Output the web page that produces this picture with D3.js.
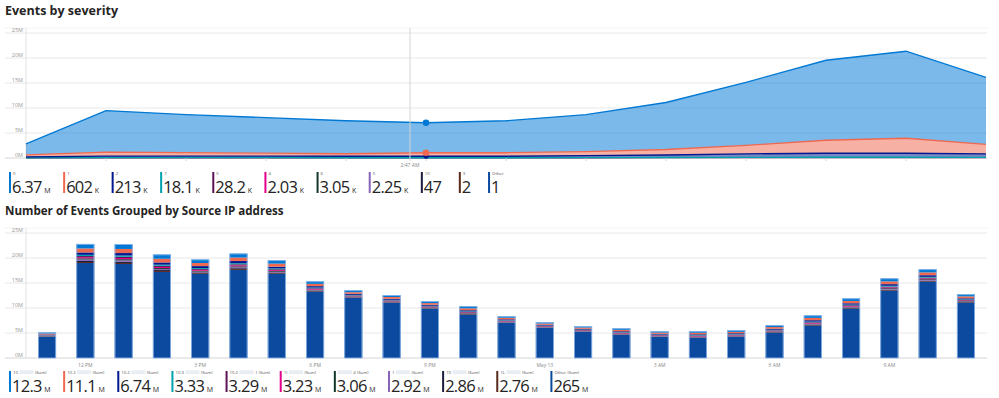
<!DOCTYPE html>
<html>
<head>
<meta charset="utf-8">
<script src="https://cdn.jsdelivr.net/npm/d3@7/dist/d3.min.js"></script>
<style>
body { margin: 0; background: #fff; }
svg { font-family: "Segoe UI", "Open Sans", sans-serif; }
</style>
</head>
<body>
<svg id="chart" width="999" height="398"></svg>
<script>
// --- Events by severity (stacked area, values in millions) ---
const sevNames = ['0', '1', '2', '7', '5', '4', '6', '5', '10', '3', 'Other']
const sevColors = ['#0078d4', '#ef6950', '#00188f', '#00a2ad', '#5c1456', '#e3008c', '#12382a', '#8764b8', '#1b1d3f', '#5a2a1c', '#0b4a9e']
const sevTotals = ['6.37', '602', '213', '18.1', '28.2', '2.03', '3.05', '2.25', '47', '2', '1']
const sevUnits = ['M', 'K', 'K', 'K', 'K', 'K', 'K', 'K', '', '', '']
const sev0 = [2.2, 8.3, 7.6, 7.1, 6.6, 6.0, 6.4, 7.4, 9.4, 12.6, 16.0, 17.4, 13.4]
const sev1 = [0.4, 0.8, 0.7, 0.6, 0.5, 0.7, 0.7, 0.8, 1.1, 1.7, 2.6, 3.0, 1.9]
const sev2 = [0.2, 0.3, 0.3, 0.3, 0.3, 0.3, 0.3, 0.4, 0.5, 0.7, 0.8, 0.8, 0.7]
const sev7 = [0.01, 0.03, 0.03, 0.03, 0.02, 0.02, 0.02, 0.03, 0.04, 0.05, 0.06, 0.06, 0.05]
const sev5 = [0.02, 0.05, 0.04, 0.04, 0.03, 0.03, 0.03, 0.04, 0.06, 0.08, 0.09, 0.09, 0.07]
const hoverAt = 4.8
const hoverIndex = 5
const hoverLabel = '2:47 AM'

// --- Number of events grouped by source IP (stacked bars, millions) ---
const hours = ['11 AM', '12 PM', '1 PM', '2 PM', '3 PM', '4 PM', '5 PM', '6 PM', '7 PM', '8 PM', '9 PM', '10 PM',
	'May 13', '1 AM', '2 AM', '3 AM', '4 AM', '5 AM', '6 AM', '7 AM', '8 AM', '9 AM', '10 AM', '11 AM ', '12 PM ']
const hourTicks = ['12 PM', '3 PM', '6 PM', '9 PM', '1 AM', '4 AM', '7 AM', '10 AM']
const hourTickText = ['12 PM', '3 PM', '6 PM', '9 PM', 'May 13', '3 AM', '6 AM', '9 AM']
const ipPrefix = ['10', '10.2', '10.2', '10.3', '10.2', '1(', '', '1', '10', '1L', 'Other']
const ipSuffix = ['(Sum)', '(Sum)', '(Sum)', '(Sum)', '1 (Sum)', '(Sum)', '4 (Sum)', '(Sum)', '(Sum)', '(Sum)', '(Sum)']
const ipTotals = ['12.3', '11.1', '6.74', '3.33', '3.29', '3.23', '3.06', '2.92', '2.86', '2.76', '265']
const ip0 = [0.22, 0.9, 0.95, 0.85, 0.7, 0.8, 0.68, 0.5, 0.38, 0.36, 0.38, 0.42, 0.3, 0.28, 0.27, 0.32, 0.28, 0.31, 0.33, 0.38, 0.5, 0.52, 0.6, 0.62, 0.42]
const ip1 = [0.2, 0.8, 0.82, 0.74, 0.62, 0.7, 0.6, 0.46, 0.33, 0.35, 0.33, 0.38, 0.3, 0.25, 0.25, 0.29, 0.24, 0.3, 0.28, 0.34, 0.46, 0.45, 0.55, 0.56, 0.38]
const ip2 = [0.12, 0.48, 0.5, 0.45, 0.38, 0.44, 0.35, 0.28, 0.2, 0.21, 0.2, 0.23, 0.18, 0.15, 0.16, 0.18, 0.15, 0.17, 0.18, 0.2, 0.28, 0.27, 0.33, 0.33, 0.22]
const ip3 = [0.06, 0.24, 0.25, 0.22, 0.18, 0.21, 0.17, 0.14, 0.1, 0.1, 0.1, 0.11, 0.09, 0.08, 0.07, 0.09, 0.07, 0.09, 0.09, 0.1, 0.14, 0.13, 0.16, 0.16, 0.11]
const ip4 = [0.06, 0.23, 0.24, 0.23, 0.19, 0.21, 0.17, 0.13, 0.1, 0.1, 0.11, 0.11, 0.09, 0.07, 0.08, 0.08, 0.08, 0.08, 0.09, 0.1, 0.13, 0.14, 0.16, 0.16, 0.11]
const ip5 = [0.06, 0.23, 0.24, 0.22, 0.18, 0.2, 0.17, 0.14, 0.09, 0.1, 0.1, 0.11, 0.08, 0.07, 0.07, 0.09, 0.07, 0.09, 0.08, 0.1, 0.13, 0.13, 0.16, 0.15, 0.11]
const ip6 = [0.05, 0.22, 0.23, 0.21, 0.17, 0.19, 0.16, 0.13, 0.09, 0.09, 0.09, 0.1, 0.08, 0.07, 0.07, 0.08, 0.07, 0.08, 0.08, 0.09, 0.13, 0.13, 0.15, 0.15, 0.1]
const ip7 = [0.05, 0.3, 0.3, 0.19, 0.16, 0.18, 0.15, 0.12, 0.09, 0.09, 0.09, 0.1, 0.08, 0.07, 0.07, 0.08, 0.07, 0.08, 0.08, 0.09, 0.12, 0.12, 0.14, 0.14, 0.1]
const ip8 = [0.05, 0.21, 0.22, 0.2, 0.16, 0.18, 0.15, 0.12, 0.08, 0.08, 0.08, 0.1, 0.07, 0.07, 0.06, 0.08, 0.07, 0.08, 0.08, 0.09, 0.12, 0.12, 0.14, 0.14, 0.1]
const ip9 = [0.05, 0.2, 0.21, 0.19, 0.16, 0.18, 0.15, 0.11, 0.08, 0.08, 0.08, 0.09, 0.07, 0.06, 0.06, 0.07, 0.06, 0.07, 0.07, 0.08, 0.11, 0.11, 0.13, 0.13, 0.09]
const ipOther = [4.2, 19.0, 18.8, 17.2, 16.8, 17.6, 16.8, 13.2, 12.0, 11.0, 9.8, 8.6, 7.0, 6.0, 5.2, 4.6, 4.2, 4.0, 4.2, 5.0, 6.4, 9.8, 13.4, 15.2, 11.0]

const yTicks = [0, 5, 10, 15, 20, 25]

const svg = d3.select('#chart')
const gridColor = '#e8e8e8'
const labelColor = '#9a9a9a'

const drawTitle = (y, text, size) => {
	svg.append('text')
		.attr('x', 5)
		.attr('y', y)
		.attr('font-size', size)
		.attr('font-weight', 'bold')
		.attr('fill', '#252423')
		.text(text)
}

const drawGrid = (y, left, right) => {
	const g = svg.append('g')
	g.append('line')
		.attr('x1', 5).attr('x2', right)
		.attr('y1', y.range()[1] - 5).attr('y2', y.range()[1] - 5)
		.attr('stroke', '#f2f2f2')
	g.selectAll('line.grid')
		.data(yTicks)
		.enter()
		.append('line')
		.attr('class', 'grid')
		.attr('x1', 5).attr('x2', right)
		.attr('y1', d => y(d)).attr('y2', d => y(d))
		.attr('stroke', d => (d == 0 ? '#d6d6d6' : gridColor))
	g.selectAll('text')
		.data(yTicks)
		.enter()
		.append('text')
		.attr('x', 23)
		.attr('y', d => y(d) - 1.5)
		.attr('text-anchor', 'end')
		.attr('font-size', 5.5)
		.attr('fill', labelColor)
		.text(d => d + 'M')
	g.append('line')
		.attr('x1', left).attr('x2', left)
		.attr('y1', y.range()[1] - 5).attr('y2', y.range()[0])
		.attr('stroke', '#e2e2e2')
}

const drawLegend = (y0, items) => {
	let x = 9
	items.forEach(it => {
		const g = svg.append('g')
		g.append('rect')
			.attr('x', x).attr('y', y0)
			.attr('width', 2).attr('height', 21)
			.attr('fill', it.color)
		const lab = g.append('text')
			.attr('x', x + 4).attr('y', y0 + 2.6)
			.attr('font-size', 4.3)
			.attr('fill', '#555')
			.text(it.prefix)
		let lx = x + 4 + (it.prefix ? lab.node().getComputedTextLength() + 1.5 : 0)
		if (it.blur) {
			g.append('rect')
				.attr('x', lx).attr('y', y0 - 0.8)
				.attr('width', it.blur).attr('height', 4)
				.attr('fill', '#eaeef3')
			lx += it.blur + 1.5
		}
		if (it.suffix) {
			g.append('text')
				.attr('x', lx).attr('y', y0 + 2.6)
				.attr('font-size', 4.3)
				.attr('fill', '#555')
				.text(it.suffix)
		}
		const num = g.append('text')
			.attr('x', x + 3).attr('y', y0 + 21.3)
			.attr('font-weight', 400)
			.attr('font-size', 16.5)
			.attr('letter-spacing', -0.7)
			.attr('fill', '#252423')
			.text(it.value)
		let end = x + 3 + num.node().getComputedTextLength()
		if (it.unit) {
			const u = g.append('text')
				.attr('x', end + 2.5).attr('y', y0 + 21.3)
				.attr('font-size', 7)
				.attr('fill', '#252423')
				.text(it.unit)
			end += 2.5 + u.node().getComputedTextLength()
		} else {
			end += 5
		}
		x = end + 12.5
	})
}

// ---------------- top chart ----------------
drawTitle(15, 'Events by severity', 12.5)
const xTop = d3.scaleLinear().domain([0, sev0.length - 1]).range([26, 986])
const yTop = d3.scaleLinear().domain([0, 25]).range([158, 33])
drawGrid(yTop, 26, 987)

const topRows = sev0.map((v, i) => ({ s0: v, s1: sev1[i], s2: sev2[i], s7: sev7[i], s5: sev5[i] }))
const topKeys = ['s5', 's7', 's2', 's1', 's0']
const topColor = { s0: sevColors[0], s1: sevColors[1], s2: sevColors[2], s7: sevColors[3], s5: sevColors[4] }
const topStack = d3.stack().keys(topKeys)(topRows)
const area = d3.area()
	.x((d, i) => xTop(i))
	.y0(d => yTop(d[0]))
	.y1(d => yTop(d[1]))
const topLine = d3.line()
	.x((d, i) => xTop(i))
	.y(d => yTop(d[1]))
const gTop = svg.append('g')
gTop.selectAll('path.area')
	.data(topStack)
	.enter()
	.append('path')
	.attr('class', 'area')
	.attr('d', area)
	.attr('fill', d => topColor[d.key])
	.attr('fill-opacity', 0.52)
gTop.selectAll('path.line')
	.data(topStack)
	.enter()
	.append('path')
	.attr('class', 'line')
	.attr('d', topLine)
	.attr('fill', 'none')
	.attr('stroke', d => topColor[d.key])
	.attr('stroke-width', 1.3)

// x ticks
svg.append('g')
	.selectAll('line')
	.data(d3.range(1, sev0.length - 1))
	.enter()
	.append('line')
	.attr('x1', d => xTop(d)).attr('x2', d => xTop(d))
	.attr('y1', 158).attr('y2', 161)
	.attr('stroke', '#d0d0d0')

// hover
svg.append('line')
	.attr('x1', xTop(hoverAt)).attr('x2', xTop(hoverAt))
	.attr('y1', 28).attr('y2', 161)
	.attr('stroke', '#d4d4d4')
svg.append('text')
	.attr('x', xTop(hoverAt)).attr('y', 167)
	.attr('text-anchor', 'middle')
	.attr('font-size', 5)
	.attr('fill', '#888')
	.text(hoverLabel)
svg.append('g')
	.selectAll('circle')
	.data(topStack.filter(s => s.key == 's0' || s.key == 's1' || s.key == 's2'))
	.enter()
	.append('circle')
	.attr('cx', xTop(hoverIndex))
	.attr('cy', d => yTop(d[hoverIndex][1]))
	.attr('r', d => (d.key == 's2' ? 2.5 : 3.3))
	.attr('fill', d => topColor[d.key])

drawLegend(172, sevNames.map((n, i) => ({
	prefix: n, color: sevColors[i], value: sevTotals[i], unit: sevUnits[i],
})))

// ---------------- bottom chart ----------------
drawTitle(215, 'Number of Events Grouped by Source IP address', 11.6)
const xBot = d3.scaleBand().domain(hours).range([26, 987]).paddingInner(0.53).paddingOuter(0.315)
const yBot = d3.scaleLinear().domain([0, 25]).range([358, 233])
drawGrid(yBot, 26, 987)

const ipSeries = [ip0, ip1, ip2, ip3, ip4, ip5, ip6, ip7, ip8, ip9, ipOther]
const botKeys = d3.range(ipSeries.length).reverse()
const botRows = hours.map((h, i) => {
	const r = { hour: h }
	ipSeries.forEach((s, k) => (r[k] = s[i]))
	return r
})
const botStack = d3.stack().keys(botKeys)(botRows)
const gBot = svg.append('g')
gBot.selectAll('g')
	.data(botStack)
	.enter()
	.append('g')
	.attr('fill', d => sevColors[d.key])
	.selectAll('rect')
	.data(d => d)
	.enter()
	.append('rect')
	.attr('x', d => xBot(d.data.hour))
	.attr('y', d => yBot(d[1]))
	.attr('width', xBot.bandwidth())
	.attr('height', d => yBot(d[0]) - yBot(d[1]))
gBot.append('g')
	.selectAll('rect')
	.data(botRows)
	.enter()
	.append('rect')
	.attr('x', d => xBot(d.hour) + 0.4)
	.attr('y', d => yBot(d3.sum(botKeys, k => d[k])) + 0.4)
	.attr('width', xBot.bandwidth() - 0.8)
	.attr('height', d => yBot(0) - yBot(d3.sum(botKeys, k => d[k])) - 0.4)
	.attr('fill', 'none')
	.attr('stroke', '#8fb8ea')
	.attr('stroke-width', 0.8)

svg.append('g')
	.selectAll('text')
	.data(hourTicks)
	.enter()
	.append('text')
	.attr('x', d => xBot(d) + xBot.bandwidth() / 2)
	.attr('y', 367)
	.attr('text-anchor', 'middle')
	.attr('font-size', 5)
	.attr('fill', '#888')
	.text((d, i) => hourTickText[i])

drawLegend(371, ipPrefix.map((p, i) => ({
	prefix: p, suffix: ipSuffix[i], blur: i == 10 ? 0 : 14,
	color: sevColors[i], value: ipTotals[i], unit: 'M',
})))
</script>
</body>
</html>
